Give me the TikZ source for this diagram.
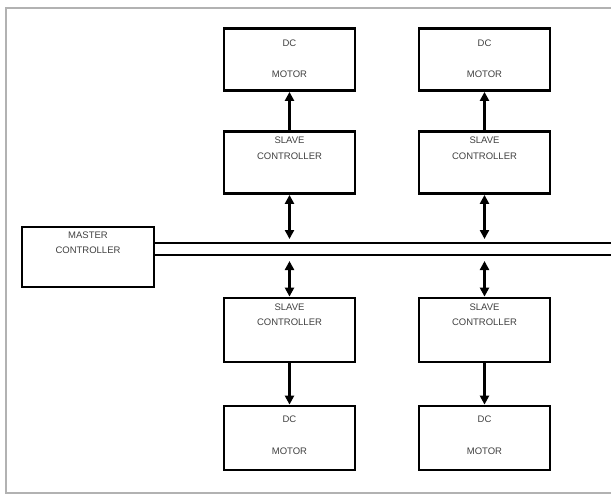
\documentclass[tikz,border=0pt]{standalone}
\usepackage{fontspec}
\setsansfont{Liberation Sans}
\usepackage{tikz}
\usetikzlibrary{arrows.meta}
\usetikzlibrary{positioning}
\tikzstyle{block}=[draw, line width=2.8pt, minimum width=131pt, minimum height=62pt, inner sep=0pt]
\tikzstyle{lbl}=[align=center, inner sep=0pt, text=black!75, font=\sffamily\fontsize{9.5}{15.5}\selectfont]
\tikzstyle{link}=[line width=2.8pt, -{Triangle[length=9pt,width=9pt]}]
\tikzstyle{duplex}=[line width=2.8pt, {Triangle[length=9pt,width=9pt]}-{Triangle[length=9pt,width=9pt]}]

\begin{document}
\begin{tikzpicture}[x=1pt, y=-1pt]
        \useasboundingbox (0,0) rectangle (611,499);
        \draw[black!30, line width=1.5pt] (6,8) rectangle (660,493);
        % upper motors and slaves
        \node[block] (M1) at (289.5, 59.5) {};
        \node[block] (M2) at (484.5, 59.5) {};
        \node[lbl] (M1t) at ([yshift=1pt]M1) {DC\\[16pt]MOTOR};
        \node[lbl] (M2t) at ([yshift=1pt]M2) {DC\\[16pt]MOTOR};
        \node[block] (S1) at (289.5, 162.5) {};
        \node[block] (S2) at (484.5, 162.5) {};
        \node[lbl, below=7pt of S1.north] (S1t) {SLAVE\\CONTROLLER};
        \node[lbl, below=7pt of S2.north] (S2t) {SLAVE\\CONTROLLER};
        % master and bus
        \node[block, minimum width=132pt, minimum height=60pt] (MC) at (88, 257) {};
        \node[lbl, below=6pt of MC.north] (MCt) {MASTER\\CONTROLLER};
        \coordinate (busA) at (620, 243);
        \coordinate (busB) at (620, 255);
        \draw[line width=2.8pt] (MC.east |- busA) -- (busA);
        \draw[line width=2.8pt] (MC.east |- busB) -- (busB);
        % lower slaves and motors
        \node[block, minimum height=64pt] (S3) at (289.5, 330) {};
        \node[block, minimum height=64pt] (S4) at (484.5, 330) {};
        \node[lbl, below=7pt of S3.north] (S3t) {SLAVE\\CONTROLLER};
        \node[lbl, below=7pt of S4.north] (S4t) {SLAVE\\CONTROLLER};
        \node[block, minimum height=64pt] (M3) at (289.5, 438) {};
        \node[block, minimum height=64pt] (M4) at (484.5, 438) {};
        \node[lbl] (M3t) at ([yshift=3pt]M3) {DC\\[16pt]MOTOR};
        \node[lbl] (M4t) at ([yshift=3pt]M4) {DC\\[16pt]MOTOR};
        % connections
        \draw[link] (S1) -- (M1);
        \draw[link] (S2) -- (M2);
        \draw[duplex, shorten >=4pt] (S1) -- (S1.south |- busA);
        \draw[duplex, shorten >=4pt] (S2) -- (S2.south |- busA);
        \draw[duplex, shorten >=6pt] (S3) -- (S3.north |- busB);
        \draw[duplex, shorten >=6pt] (S4) -- (S4.north |- busB);
        \draw[link] (S3) -- (M3);
        \draw[link] (S4) -- (M4);
    \end{tikzpicture}
\end{document}
